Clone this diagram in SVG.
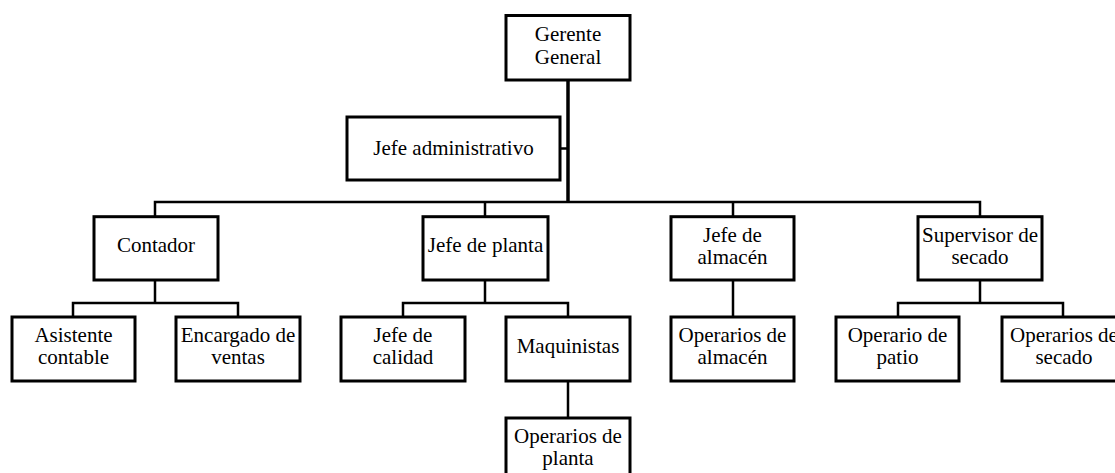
<svg xmlns="http://www.w3.org/2000/svg" width="1115" height="473" viewBox="0 0 1115 473">
<style>
.box{fill:#fff;stroke:#000;stroke-width:3}
.t{font-family:"Liberation Serif","Times New Roman",serif;font-size:21px;fill:#000;text-anchor:middle}
.ln{fill:none;stroke:#000;stroke-width:2.5}
.main{fill:none;stroke:#000;stroke-width:3.5}
</style>
<rect width="1115" height="473" fill="#fff"/>
<g id="connectors">
<path class="main" d="M568 80V202"/>
<path class="ln" d="M560 148.5H568"/>
<path class="ln" d="M155 216.7V202H980V216.7M485 202V216.7M733 202V216.7"/>
<path class="ln" d="M155 280V303M73 317V303H238V317"/>
<path class="ln" d="M485 280V303M403 317V303H568V317"/>
<path class="ln" d="M733 280V317"/>
<path class="ln" d="M980 280V303M898 317V303H1063V317"/>
<path class="ln" d="M568 381V418"/>
</g>
<g id="gerente"><rect class="box" x="506" y="15.5" width="124" height="64.5"/><text class="t" x="568" y="41">Gerente</text><text class="t" x="568" y="64">General</text></g>
<g id="jefe-admin"><rect class="box" x="347" y="117" width="213" height="63"/><text class="t" x="453.5" y="155">Jefe administrativo</text></g>
<g id="contador"><rect class="box" x="94" y="216.7" width="124" height="63.3"/><text class="t" x="156" y="252">Contador</text></g>
<g id="jefe-planta"><rect class="box" x="423" y="216.7" width="125" height="63.3"/><text class="t" x="485.5" y="252">Jefe de planta</text></g>
<g id="jefe-almacen"><rect class="box" x="671" y="216.7" width="123" height="63.3"/><text class="t" x="732.5" y="242">Jefe de</text><text class="t" x="732.5" y="264">almacén</text></g>
<g id="supervisor"><rect class="box" x="918" y="216.7" width="124" height="63.3"/><text class="t" x="980" y="242">Supervisor de</text><text class="t" x="980" y="264">secado</text></g>
<g id="asistente"><rect class="box" x="12" y="317" width="123" height="64"/><text class="t" x="73.5" y="342">Asistente</text><text class="t" x="73.5" y="364">contable</text></g>
<g id="encargado"><rect class="box" x="176" y="317" width="124" height="64"/><text class="t" x="238" y="342">Encargado de</text><text class="t" x="238" y="364">ventas</text></g>
<g id="jefe-calidad"><rect class="box" x="341" y="317" width="124" height="64"/><text class="t" x="403" y="342">Jefe de</text><text class="t" x="403" y="364">calidad</text></g>
<g id="maquinistas"><rect class="box" x="506" y="317" width="124" height="64"/><text class="t" x="568" y="352.5">Maquinistas</text></g>
<g id="operarios-almacen"><rect class="box" x="671" y="317" width="123" height="64"/><text class="t" x="732.5" y="342">Operarios de</text><text class="t" x="732.5" y="364">almacén</text></g>
<g id="operario-patio"><rect class="box" x="836" y="317" width="123" height="64"/><text class="t" x="897.5" y="342">Operario de</text><text class="t" x="897.5" y="364">patio</text></g>
<g id="operarios-secado"><rect class="box" x="1002" y="317" width="124" height="64"/><text class="t" x="1064" y="342">Operarios de</text><text class="t" x="1064" y="364">secado</text></g>
<g id="operarios-planta"><rect class="box" x="506" y="418" width="124" height="64"/><text class="t" x="568" y="443">Operarios de</text><text class="t" x="568" y="465">planta</text></g>
</svg>
